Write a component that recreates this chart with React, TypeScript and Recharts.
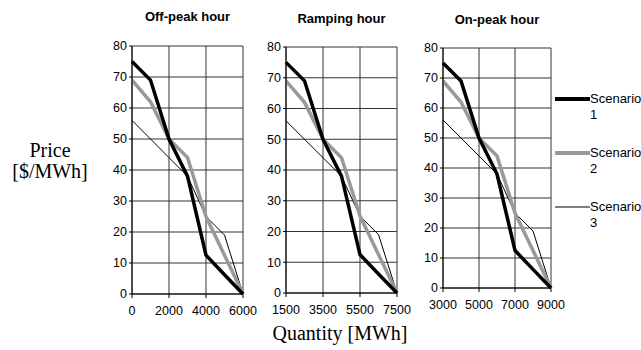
import { LineChart, Line, XAxis, YAxis, CartesianGrid } from 'recharts';

const offPeakQty = [0, 1000, 2000, 3000, 4000, 5000, 6000];
const rampingQty = [1500, 2500, 3500, 4500, 5500, 6500, 7500];
const onPeakQty = [3000, 4000, 5000, 6000, 7000, 8000, 9000];

const scenario1 = [75, 69, 50, 38, 12.5, 6.2, 0];
const scenario2 = [69, 62, 50, 44, 25, 12.5, 0];
const scenario3 = [56, 50, 44, 38, 25, 19, 0];

const offPeakTicks = [0, 2000, 4000, 6000];
const rampingTicks = [1500, 3500, 5500, 7500];
const onPeakTicks = [3000, 5000, 7000, 9000];
const priceTicks = [0, 10, 20, 30, 40, 50, 60, 70, 80];

const legendItems = [
  { name: 'Scenario', num: '1', color: '#000', width: 4, y: 99 },
  { name: 'Scenario', num: '2', color: '#999', width: 4, y: 153 },
  { name: 'Scenario', num: '3', color: '#000', width: 1, y: 207 },
];

const arial = '"Liberation Sans", Arial, sans-serif';
const times = '"Liberation Serif", "Times New Roman", serif';

const rows = (qty: number[]) =>
  qty.map((q, i) => ({ q, s1: scenario1[i], s2: scenario2[i], s3: scenario3[i] }));

interface PanelProps {
  title: string;
  qty: number[];
  ticks: number[];
  plotLeft: number;
  plotRight: number;
  top: number;
  bottom: number;
  titleY: number;
}

// each panel is its own small chart, placed so its plot box matches the reference
function Panel({ title, qty, ticks, plotLeft, plotRight, top, bottom, titleY }: PanelProps) {
  const left = plotLeft - 40;
  const width = plotRight - left + 20;
  return (
    <>
      <div
        style={{
          position: 'absolute',
          left: plotLeft - 40,
          width: plotRight - plotLeft + 80,
          top: titleY - 8,
          textAlign: 'center',
          fontFamily: arial,
          fontWeight: 'bold',
          fontSize: 13,
          lineHeight: '16px',
        }}
      >
        {title}
      </div>
      <div style={{ position: 'absolute', left, top: 0 }}>
        <LineChart width={width} height={330} data={rows(qty)} margin={{ top, right: 20, left: 0, bottom }}>
          <CartesianGrid stroke="#333" strokeWidth={1} />
          <XAxis
            dataKey="q"
            type="number"
            domain={[qty[0], qty[qty.length - 1]]}
            ticks={ticks}
            interval={0}
            height={30}
            tickSize={4}
            tickMargin={8}
            stroke="#000"
            tick={{ fill: '#000', fontSize: 12.5, fontFamily: arial }}
          />
          <YAxis
            domain={[0, 80]}
            ticks={priceTicks}
            interval={0}
            width={40}
            tickSize={3}
            tickMargin={2}
            stroke="#000"
            tick={{ fill: '#000', fontSize: 12.5, fontFamily: arial }}
          />
          <Line type="linear" dataKey="s3" stroke="#000" strokeWidth={1} dot={false} isAnimationActive={false} />
          <Line type="linear" dataKey="s2" stroke="#999" strokeWidth={3.5} dot={false} isAnimationActive={false} />
          <Line type="linear" dataKey="s1" stroke="#000" strokeWidth={3.5} dot={false} isAnimationActive={false} />
        </LineChart>
      </div>
    </>
  );
}

export default function App() {
  return (
    <div
      style={{
        position: 'absolute',
        left: 0,
        top: 0,
        width: 641,
        height: 350,
        overflow: 'hidden',
        background: '#fff',
      }}
    >
      <Panel title="Off-peak hour" qty={offPeakQty} ticks={offPeakTicks} plotLeft={132} plotRight={243} top={46} bottom={6} titleY={17} />
      <Panel title="Ramping hour" qty={rampingQty} ticks={rampingTicks} plotLeft={286} plotRight={397} top={47} bottom={7} titleY={19} />
      <Panel title="On-peak hour" qty={onPeakQty} ticks={onPeakTicks} plotLeft={443} plotRight={551} top={48} bottom={12} titleY={20} />

      <div
        style={{
          position: 'absolute',
          left: 0,
          width: 100,
          top: 140,
          textAlign: 'center',
          fontFamily: times,
          fontSize: 20,
          lineHeight: '21px',
        }}
      >
        Price
        <br />
        [$/MWh]
      </div>
      <div
        style={{
          position: 'absolute',
          left: 240,
          width: 200,
          top: 322,
          textAlign: 'center',
          fontFamily: times,
          fontSize: 20,
          lineHeight: '22px',
        }}
      >
        Quantity [MWh]
      </div>

      {legendItems.map((item) => (
        <div key={item.num}>
          <svg style={{ position: 'absolute', left: 555, top: item.y - 3 }} width={35} height={6}>
            <line x1={0} y1={3} x2={35} y2={3} stroke={item.color} strokeWidth={item.width} />
          </svg>
          <div
            style={{
              position: 'absolute',
              left: 590,
              top: item.y - 8,
              fontFamily: arial,
              fontSize: 13,
              lineHeight: '16px',
              whiteSpace: 'nowrap',
            }}
          >
            {item.name}
            <br />
            {item.num}
          </div>
        </div>
      ))}
    </div>
  );
}
